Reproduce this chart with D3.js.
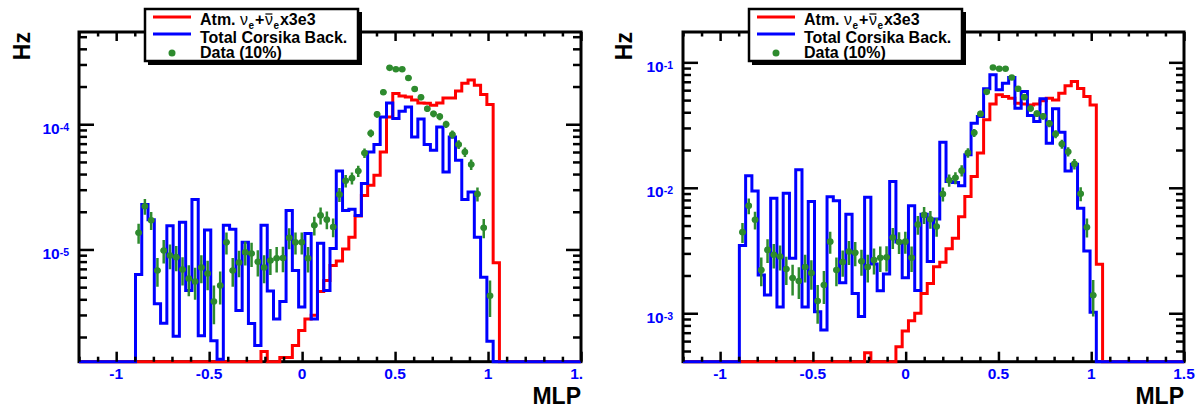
<!DOCTYPE html>
<html><head><meta charset="utf-8">
<script src="https://cdn.jsdelivr.net/npm/d3@7"></script>
<style>
html,body{margin:0;padding:0;background:#fff;}
svg{display:block;font-family:"Liberation Sans",Arial,Helvetica,sans-serif;}
</style>
</head><body>
<svg id="c" width="1200" height="413"></svg>
<script>
// ---- shared binning / axis data ----
const histRange = [-1.2, 1.5];
const nBins = 80;
const firstBin = 9;                 // index of first listed bin in every series below
const xMajorTicks = [-1, -0.5, 0, 0.5, 1, 1.5];
const xTickLabels = ["-1", "-0.5", "0", "0.5", "1", "1.5"];
const xTitle = "MLP";
const yTitle = "Hz";
const legendLabels = ["Atm. ", "Total Corsika Back.", "Data (10%)"];

// ---- left panel ----
const leftYDomain = [1.27e-6, 5.45e-4];
const leftYMajorTicks = [1e-5, 1e-4];
const leftYTickExponents = ["-5", "-4"];
const leftSignal = [ // bins 9..66, atm. nu_e x3e3
  0,0,0,0,0,0,0,0,0,0, 0,0,0,0,0,0,0,0,0,0,
  1.53e-6, 0, 0, 1.37e-6, 1.37e-6, 1.71e-6, 2.25e-6, 2.78e-6, 2.99e-6, 4.61e-6,
  5.65e-6, 7.45e-6, 8.09e-6, 1.01e-5, 1.25e-5, 1.85e-5, 2.7e-5, 3.25e-5, 3.91e-5, 6.0e-5,
  1.14e-4, 1.76e-4, 1.68e-4, 1.65e-4, 1.56e-4, 1.48e-4, 1.47e-4, 1.42e-4, 1.48e-4, 1.62e-4,
  1.62e-4, 1.84e-4, 2.12e-4, 2.25e-4, 2.05e-4, 1.73e-4, 1.44e-4, 7.83e-6
];
const leftBackground = [ // bins 9..65, total Corsika
  6.31e-6, 2.29e-5, 1.73e-5, 3.68e-6, 2.57e-6, 1.55e-5, 2.03e-6, 1.65e-5, 4.7e-6, 2.51e-5,
  2.05e-6, 1.43e-5, 1.87e-6, 1.33e-6, 1.56e-5, 1.45e-5, 3.25e-6, 1.14e-5, 2.56e-6, 1.71e-6,
  1.56e-5, 4.66e-6, 2.78e-6, 3.84e-6, 2.05e-5, 6.79e-6, 3.47e-6, 1.34e-5, 2.79e-6, 1.12e-5,
  4.7e-6, 1.02e-5, 4.23e-5, 2.05e-5, 2.09e-5, 1.87e-5, 3.36e-5, 6.0e-5, 6.89e-5, 1.14e-4,
  1.48e-4, 1.11e-4, 1.27e-4, 1.37e-4, 7.9e-5, 1.1e-4, 6.89e-5, 6.19e-5, 9.5e-5, 4.15e-5,
  7.9e-5, 5.15e-5, 2.51e-5, 2.87e-5, 1.25e-5, 6.0e-6, 1.85e-6
];
const leftData = [ // bins 9..65, data (10%)
  1.36e-5, 2.21e-5, 1.71e-5, 6.79e-6, 9.82e-6, 8.95e-6, 8.68e-6, 6.92e-6, 5.86e-6, 5.55e-6,
  7.18e-6, 6.43e-6, 3.84e-6, 5.15e-6, 1.14e-5, 6.79e-6, 7.87e-6, 9.51e-6, 9.29e-6, 7.98e-6,
  7.18e-6, 8.17e-6, 8.51e-6, 8.55e-6, 1.24e-5, 1.14e-5, 1.14e-5, 8.51e-6, 1.56e-5, 1.87e-5,
  1.73e-5, 1.51e-5, 2.75e-5, 3.53e-5, 3.71e-5, 4.23e-5, 5.88e-5, 8.47e-5, 1.2e-4, 1.8e-4,
  2.82e-4, 2.75e-4, 2.75e-4, 2.34e-4, 1.91e-4, 1.64e-4, 1.33e-4, 1.21e-4, 1.15e-4, 1.0e-4,
  8.28e-5, 6.89e-5, 6.0e-5, 4.77e-5, 2.77e-5, 1.49e-5, 4.27e-6
];
const leftDataEventWeight = 4.5e-7; // Hz per event, read from error-bar lengths

// ---- right panel ----
const rightYDomain = [4.11e-4, 0.1745];
const rightYMajorTicks = [1e-3, 1e-2, 1e-1];
const rightYTickExponents = ["-3", "-2", "-1"];
const rightSignal = [ // bins 9..66
  0,0,0,0,0,0,0,0,0,0, 0,0,0,0,0,0,0,0,0,0,
  4.85e-4, 0, 0, 0, 0, 5.42e-4, 7.23e-4, 8.73e-4, 1.0e-3, 1.44e-3,
  1.73e-3, 2.35e-3, 2.55e-3, 3.26e-3, 3.96e-3, 5.89e-3, 8.51e-3, 1.23e-2, 1.89e-2, 3.48e-2,
  4.65e-2, 5.51e-2, 5.34e-2, 5.18e-2, 4.73e-2, 4.65e-2, 4.58e-2, 4.65e-2, 4.93e-2, 5.18e-2,
  5.02e-2, 5.68e-2, 6.5e-2, 7.03e-2, 6.2e-2, 5.33e-2, 4.58e-2, 2.46e-3
];
const rightBackground = [ // bins 9..65
  3.46e-3, 1.25e-2, 9.44e-3, 2.02e-3, 1.4e-3, 8.26e-3, 1.12e-3, 9.06e-3, 2.75e-3, 1.39e-2,
  1.12e-3, 7.76e-3, 1.03e-3, 7.36e-4, 8.5e-3, 7.9e-3, 1.75e-3, 6.15e-3, 1.44e-3, 9.4e-4,
  8.41e-3, 2.47e-3, 1.51e-3, 2.06e-3, 1.12e-2, 3.7e-3, 1.92e-3, 7.18e-3, 1.52e-3, 6.15e-3,
  2.58e-3, 5.65e-3, 2.31e-2, 1.12e-2, 1.1e-2, 1.04e-2, 1.83e-2, 3.27e-2, 3.7e-2, 6.15e-2,
  7.95e-2, 6.04e-2, 6.82e-2, 7.57e-2, 4.31e-2, 5.85e-2, 3.77e-2, 3.37e-2, 5.12e-2, 2.27e-2,
  4.26e-2, 2.77e-2, 1.36e-2, 1.54e-2, 6.87e-3, 3.14e-3, 1.02e-3
];
const rightData = [ // bins 9..65
  4.43e-3, 7.18e-3, 5.55e-3, 2.21e-3, 3.2e-3, 2.92e-3, 2.83e-3, 2.25e-3, 1.91e-3, 1.81e-3,
  2.34e-3, 2.09e-3, 1.25e-3, 1.68e-3, 3.72e-3, 2.21e-3, 2.56e-3, 3.1e-3, 3.03e-3, 2.6e-3,
  2.34e-3, 2.66e-3, 2.77e-3, 2.79e-3, 4.02e-3, 3.7e-3, 3.72e-3, 2.77e-3, 5.09e-3, 6.08e-3,
  5.62e-3, 4.91e-3, 8.93e-3, 1.15e-2, 1.2e-2, 1.37e-2, 1.9e-2, 2.74e-2, 3.88e-2, 5.82e-2,
  9.1e-2, 8.88e-2, 8.88e-2, 7.57e-2, 6.15e-2, 5.28e-2, 4.28e-2, 3.9e-2, 3.72e-2, 3.25e-2,
  2.68e-2, 2.23e-2, 1.94e-2, 1.55e-2, 8.97e-3, 4.85e-3, 1.39e-3
];
const rightDataEventWeight = 1.45e-4;

// ---- styles ----
const colSignal = "#ff0000", colBack = "#0000ff", colData = "#2e8b2e", colLabel = "#0000ff";

const svg = d3.select("#c");
const defs = svg.append("defs");
const H = 413;

function drawPanel(cfg) {
  defs.append("clipPath").attr("id", cfg.id + "-clip").append("rect")
    .attr("x", cfg.clip[0]).attr("y", 0).attr("width", cfg.clip[1] - cfg.clip[0]).attr("height", H);
  defs.append("clipPath").attr("id", cfg.id + "-frame").append("rect")
    .attr("x", cfg.x0 - 2).attr("y", cfg.y0).attr("width", cfg.x1 - cfg.x0 + 4).attr("height", cfg.y1 - cfg.y0 + 2);

  const g = svg.append("g").attr("clip-path", `url(#${cfg.id}-clip)`);
  const x = d3.scaleLinear().domain(histRange).range([cfg.x0, cfg.x1]);
  const y = d3.scaleLog().domain(cfg.yDomain).range([cfg.y1, cfg.y0]);
  const binW = (histRange[1] - histRange[0]) / nBins;
  const yOf = v => (v > 0 ? Math.max(cfg.y0, Math.min(cfg.y1, y(v))) : cfg.y1);

  // frame
  g.append("rect").attr("x", cfg.x0).attr("y", cfg.y0)
    .attr("width", cfg.x1 - cfg.x0).attr("height", cfg.y1 - cfg.y0)
    .attr("fill", "#fff").attr("stroke", "#000").attr("stroke-width", 3);

  const plot = g.append("g").attr("clip-path", `url(#${cfg.id}-frame)`);

  function histPath(vals) {
    const full = new Array(nBins).fill(0);
    vals.forEach((v, i) => { full[firstBin + i] = v; });
    const p = d3.path();
    p.moveTo(x(histRange[0]), cfg.y1);
    full.forEach((v, k) => {
      const yy = yOf(v);
      p.lineTo(x(histRange[0] + k * binW), yy);
      p.lineTo(x(histRange[0] + (k + 1) * binW), yy);
    });
    p.lineTo(x(histRange[1]), cfg.y1);
    return p.toString();
  }
  plot.append("path").attr("d", histPath(cfg.signal)).attr("fill", "none")
    .attr("stroke", colSignal).attr("stroke-width", 3).attr("stroke-linejoin", "miter");
  plot.append("path").attr("d", histPath(cfg.back)).attr("fill", "none")
    .attr("stroke", colBack).attr("stroke-width", 3).attr("stroke-linejoin", "miter");

  // data points with error bars
  const pts = cfg.data.map((v, i) => ({ k: firstBin + i, v })).filter(d => d.v > 0);
  const dg = plot.append("g").attr("stroke", colData).attr("fill", colData);
  pts.forEach(d => {
    const c = histRange[0] + (d.k + 0.5) * binW;
    const cx = x(c), cy = y(d.v);
    const s = Math.sqrt(d.v * cfg.w);
    const yu = yOf(d.v + s), yd = yOf(d.v - s);
    dg.append("line").attr("x1", cx).attr("x2", cx).attr("y1", yu).attr("y2", yd).attr("stroke-width", 2.5);
    dg.append("line").attr("x1", x(c - binW / 2)).attr("x2", x(c + binW / 2)).attr("y1", cy).attr("y2", cy).attr("stroke-width", 2.5);
    dg.append("circle").attr("cx", cx).attr("cy", cy).attr("r", 3.3).attr("stroke", "none");
  });

  // ticks
  const xMinor = d3.range(-12, 16).map(i => i / 10).filter(v => !xMajorTicks.some(m => Math.abs(m - v) < 1e-9));
  const yMinor = [];
  const lo = Math.floor(Math.log10(cfg.yDomain[0])), hi = Math.ceil(Math.log10(cfg.yDomain[1]));
  for (let d = lo; d <= hi; d++) for (let m = 2; m <= 9; m++) {
    const v = m * Math.pow(10, d);
    if (v > cfg.yDomain[0] && v < cfg.yDomain[1]) yMinor.push(v);
  }
  const ax = g.append("g").attr("class", "ticks");
  function addAxis(axis, tx, ty) {
    const a = ax.append("g").attr("transform", `translate(${tx},${ty})`).call(axis);
    a.select(".domain").remove();
    a.selectAll("text").remove();
    a.selectAll("line").attr("stroke", "#000").attr("stroke-width", 2.5);
  }
  addAxis(d3.axisBottom(x).tickValues(xMajorTicks).tickSize(-10), 0, cfg.y1);
  addAxis(d3.axisBottom(x).tickValues(xMinor).tickSize(-5), 0, cfg.y1);
  addAxis(d3.axisTop(x).tickValues(xMajorTicks).tickSize(-9), 0, cfg.y0);
  addAxis(d3.axisTop(x).tickValues(xMinor).tickSize(-4.5), 0, cfg.y0);
  addAxis(d3.axisLeft(y).tickValues(cfg.yMajor).tickSize(-15), cfg.x0, 0);
  addAxis(d3.axisLeft(y).tickValues(yMinor).tickSize(-8), cfg.x0, 0);
  addAxis(d3.axisRight(y).tickValues(cfg.yMajor).tickSize(-15), cfg.x1, 0);
  addAxis(d3.axisRight(y).tickValues(yMinor).tickSize(-8), cfg.x1, 0);

  // x tick labels
  g.append("g").selectAll("text").data(xMajorTicks).join("text")
    .attr("x", d => x(d)).attr("y", cfg.y1 + 17)
    .attr("text-anchor", "middle").attr("fill", colLabel)
    .attr("font-size", 15.5).attr("font-weight", "bold")
    .text((d, i) => xTickLabels[i]);

  // y tick labels 10^n
  cfg.yMajor.forEach((v, i) => {
    const t = g.append("text").attr("x", cfg.x0 - 10).attr("y", y(v) + 9.5)
      .attr("text-anchor", "end").attr("fill", colLabel).attr("font-weight", "bold");
    t.append("tspan").attr("font-size", 15.5).text("10");
    t.append("tspan").attr("font-size", 10.5).attr("dy", -3).text(cfg.yExp[i]);
  });

  // axis titles
  g.append("text").attr("x", cfg.x1).attr("y", 404).attr("text-anchor", "end")
    .attr("font-size", 23).attr("font-weight", "bold").attr("fill", "#000").text(xTitle);
  g.append("text").attr("transform", `translate(${cfg.hzX},32) rotate(-90)`).attr("text-anchor", "end")
    .attr("font-size", 23).attr("font-weight", "bold").attr("fill", "#000").text(yTitle);

  // legend
  const lx = cfg.legendX, ly = 9;
  const lg = g.append("g");
  lg.append("rect").attr("x", lx + 3).attr("y", ly + 3).attr("width", 214).attr("height", 53).attr("fill", "#000");
  lg.append("rect").attr("x", lx).attr("y", ly).attr("width", 213).attr("height", 52)
    .attr("fill", "#fff").attr("stroke", "#000").attr("stroke-width", 2.5);
  lg.append("line").attr("x1", lx + 8).attr("x2", lx + 46).attr("y1", 17).attr("y2", 17)
    .attr("stroke", colSignal).attr("stroke-width", 3);
  lg.append("line").attr("x1", lx + 8).attr("x2", lx + 46).attr("y1", 34).attr("y2", 34)
    .attr("stroke", colBack).attr("stroke-width", 3);
  lg.append("circle").attr("cx", lx + 27).attr("cy", 53).attr("r", 3.5).attr("fill", colData);

  const tx = lx + 55;
  const t1 = lg.append("text").attr("x", tx).attr("y", 25).attr("font-size", 16).attr("font-weight", "bold").attr("fill", "#000");
  t1.append("tspan").text(legendLabels[0]);
  t1.append("tspan").attr("font-weight", "normal").text("\u03BD");
  t1.append("tspan").attr("font-size", 10).attr("dy", 4).attr("dx", 0.5).text("e");
  t1.append("tspan").attr("dy", -4).attr("dx", 1).text("+");
  t1.append("tspan").attr("font-weight", "normal").attr("dx", 0.5).text("\u03BD");
  t1.append("tspan").attr("font-size", 10).attr("dy", 4).attr("dx", 0.5).text("e");
  t1.append("tspan").attr("dy", -4).attr("dx", 1).text("x3e3");
  try {
    const ext = t1.node().getExtentOfChar(8);
    lg.append("line").attr("x1", ext.x + 0.5).attr("x2", ext.x + ext.width - 0.5)
      .attr("y1", 14).attr("y2", 14).attr("stroke", "#000").attr("stroke-width", 1.2);
  } catch (e) {}
  lg.append("text").attr("x", tx).attr("y", 42.5).attr("font-size", 16).attr("font-weight", "bold").text(legendLabels[1]);
  lg.append("text").attr("x", tx).attr("y", 58).attr("font-size", 16).attr("font-weight", "bold").text(legendLabels[2]);
}

drawPanel({ id: "L", x0: 79, x1: 581, y0: 32, y1: 361.7, clip: [0, 583],
  yDomain: leftYDomain, yMajor: leftYMajorTicks, yExp: leftYTickExponents,
  signal: leftSignal, back: leftBackground, data: leftData, w: leftDataEventWeight,
  legendX: 145, hzX: 30 });
drawPanel({ id: "R", x0: 683, x1: 1184, y0: 32, y1: 361.7, clip: [592, 1200],
  yDomain: rightYDomain, yMajor: rightYMajorTicks, yExp: rightYTickExponents,
  signal: rightSignal, back: rightBackground, data: rightData, w: rightDataEventWeight,
  legendX: 749, hzX: 631.5 });
</script>
</body></html>
